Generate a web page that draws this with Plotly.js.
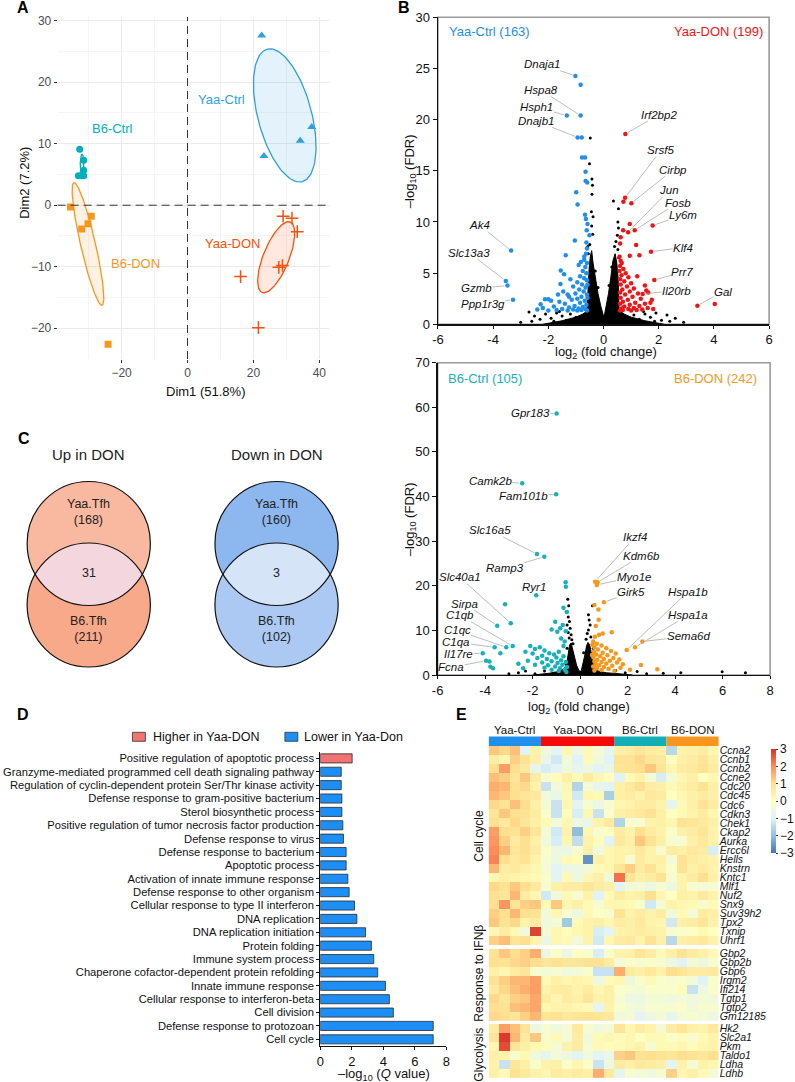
<!DOCTYPE html>
<html><head><meta charset="utf-8">
<script src="https://cdn.plot.ly/plotly-3.0.1.min.js"></script>
<style>html,body{margin:0;padding:0;background:#fff;}#chart{width:795px;height:1082px;}</style>
</head><body><div id="chart"></div>
<script>
// ================= DATA =================
// Panel A: PCA individuals
const b6CtrlDim1 = [-32.7,-31.5,-31.5,-33.1,-32.3,-31.5];
const b6CtrlDim2 = [9.1,7.3,5.7,4.8,4.8,4.8];
const b6DonDim1 = [-35.5,-29.2,-30.2,-32.1,-24.1];
const b6DonDim2 = [-0.3,-1.8,-3.0,-3.85,-22.6];
const yaaCtrlDim1 = [22.5,23.2,34.2,37.7];
const yaaCtrlDim2 = [27.6,8.0,10.5,12.7];
const yaaDonDim1 = [29.0,31.7,33.3,27.7,28.8,16.1,21.5];
const yaaDonDim2 = [-1.8,-2.1,-4.3,-10.1,-9.8,-11.6,-19.9];
// confidence ellipses: [centre x, centre y, axis1 dx, axis1 dy, axis2 dx, axis2 dy]
const ellB6Ctrl = [-32.0,6.6,0,1.71,0.54,0];
const ellB6Don = [-30.2,-6.3,-4.27,9.98,2.2,0.27];
const ellYaaCtrl = [29.5,14.6,-5.33,10.76,7.86,1.14];
const ellYaaDon = [26.9,-8.46,4.28,5.73,3.63,-0.79];

// Panel B top volcano (Yaa)
const topBlueX = [-1.02,-0.83,-0.83,-1.33,-0.94,-0.79,-0.78,-0.67,-0.65,-0.65,-0.59,-0.99,-0.94,-0.67,-0.64,-0.58,-0.61,-0.51,-1.04,-1.37,-3.35,-3.54,-3.48,-3.28,-1.55,-1.43,-1.56,-2.12,-2.28,-2.0,-1.25,-1.46,
 -0.62,-0.6,-0.64,-0.7,-0.6,-0.66,-0.75,-0.62,-0.85,-0.7,-0.6,-0.95,-0.78,-1.1,-0.65,-0.88,-0.72,-1.02,-0.6,-1.3,-0.8,-0.95,-1.15,-0.68,-1.6,-0.85,-1.4,-0.62,-1.05,-1.8,-0.75,-1.25,-0.9,-2.2,-0.66,-1.5,-1.1,-0.8,-1.7,-2.4,-0.95,-1.3,-0.6,-2.0,-0.7,-0.9,-1.2,-0.58,-0.58,-1.9,-1.65,-0.82];
const topBlueY = [24.27,23.4,20.4,20.4,18.26,18.26,16.3,16.3,14.9,14.0,13.86,12.9,11.7,10.7,10.3,9.8,9.2,8.7,8.2,6.75,7.2,4.24,3.78,2.4,5.25,4.9,3.95,2.45,1.96,2.45,2.7,3.2,
 8.0,7.4,6.9,6.3,6.0,5.6,5.2,5.0,4.7,4.5,4.3,4.1,3.9,3.7,3.6,3.4,3.2,3.0,2.9,2.9,2.7,2.5,2.4,2.3,2.2,2.1,2.0,1.9,1.8,1.75,1.7,1.65,1.55,1.6,1.5,1.5,1.45,1.4,1.4,1.45,1.35,1.35,1.35,1.35,6.6,5.8,4.4,3.9,2.6,2.3,2.9,6.1];
const topRedX = [0.79,0.78,0.72,1.01,0.95,0.71,0.89,1.13,1.78,1.72,1.18,1.3,0.95,0.62,0.6,1.84,1.42,3.4,4.03,
 0.58,0.62,0.66,0.6,0.72,0.58,0.8,0.65,0.9,0.6,0.75,1.0,0.62,0.85,1.1,0.68,0.95,0.6,1.25,0.78,1.05,0.62,1.35,0.88,0.7,1.15,1.5,0.6,0.95,1.3,0.75,1.6,1.1,0.65,0.9,1.4,0.7,1.2,1.8,0.6,1.0,1.55,1.62,1.7,1.75,1.22,1.5];
const topRedY = [18.6,12.36,11.97,11.84,9.8,9.2,9.0,9.2,9.65,7.1,7.76,6.75,6.7,8.5,7.9,4.33,2.97,1.82,1.99,
 6.6,6.2,6.0,5.7,5.4,5.2,5.0,4.8,4.6,4.4,4.2,4.0,3.9,3.7,3.5,3.4,3.2,3.1,3.0,2.9,2.7,2.6,2.5,2.4,2.2,2.1,2.0,2.0,1.9,1.8,1.75,1.6,1.6,1.55,1.5,1.45,1.4,1.4,1.5,1.35,1.35,3.3,3.1,2.1,2.4,4.7,3.8];
const topGreyX = [-0.48,-0.51,-0.42,-0.42,-0.4,-0.44,-0.38,-0.43,-0.39,0.36,0.54,0.54,0.5,0.45,0.4,0.52,
 -2.7,-2.5,-2.3,-2.1,-1.9,-1.7,-1.5,-1.35,-1.2,-1.0,-2.6,-1.8,2.6,2.3,2.1,1.9,1.7,1.5,1.3,1.1,2.4,1.85,-3.0,2.9,-1.6,1.45,
 -0.57,-0.5,-0.55,-0.3,-0.2,0.2,0.3,0.55,0.52,-0.62,0.6];
const topGreyY = [18.2,15.7,14.2,12.7,13.6,11.0,10.5,9.6,8.8,12.06,11.3,9.4,8.7,8.1,7.6,10.0,
 1.2,0.8,0.5,1.0,0.6,1.1,0.8,0.4,1.0,0.7,0.3,0.3,0.6,0.9,0.4,1.1,0.7,1.0,0.5,0.9,0.3,0.3,0.2,0.2,1.25,1.25,
 7.6,7.8,6.9,5.2,3.6,3.8,5.6,6.5,7.3,1.2,1.1];
// dense non-significant core (outline of the black point cloud)
const topCoreX = [-2.2,-1.5,-1.0,-0.75,-0.6,-0.58,-0.56,-0.52,-0.48,-0.43,-0.38,-0.3,-0.2,-0.1,-0.03,0.0,0.04,0.1,0.18,0.26,0.34,0.42,0.48,0.53,0.55,0.56,0.6,0.75,1.0,1.5,2.2];
const topCoreY = [0,0.35,0.7,1.0,1.3,2.5,4.0,5.5,6.6,7.2,6.0,4.5,3.0,1.8,1.0,0.8,1.0,1.8,3.0,4.5,6.2,6.9,6.0,4.5,3.0,1.5,1.3,1.0,0.7,0.35,0];
const topGenes = ['Dnaja1','Hspa8','Hsph1','Dnajb1','Irf2bp2','Srsf5','Cirbp','Jun','Fosb','Ly6m','Klf4','Prr7','Il20rb','Gal','Ak4','Slc13a3','Gzmb','Ppp1r3g'];
const topGeneX = [-1.02,-0.83,-1.33,-0.94,0.79,0.78,1.01,0.89,1.13,1.78,1.72,1.84,1.42,3.4,-3.35,-3.54,-3.48,-3.28];
const topGeneY = [24.27,20.4,20.4,18.26,18.6,12.36,11.84,9.0,9.2,9.65,7.1,4.33,2.97,1.82,7.2,4.24,3.78,2.4];

// Panel B bottom volcano (B6)
const botTealX = [-0.99,-2.44,-1.01,-1.82,-1.51,-1.85,-0.61,-0.6,-2.92,-3.16,-3.49,-0.7,-0.56,-1.05,-1.2,-0.96,-0.84,-0.73,-0.6,-3.11,-2.84,-3.36,-3.6,-4.1,-3.96,-3.82,-3.67,-3.78,
 -2.1,-1.9,-1.7,-1.5,-2.0,-1.3,-1.6,-1.1,-0.9,-1.8,-1.4,-1.0,-0.7,-2.2,-1.2,-0.8,-1.6,-0.95,-0.6,-1.9,-1.35,-0.75,-1.05,-0.55,-1.5,-0.85,-0.65,-1.2,-0.9,-0.58,-2.4,-2.6,-0.7,-0.65,-0.8,-2.3];
const botTealY = [58.6,43.0,40.5,27.1,26.5,17.9,20.8,19.8,11.6,15.85,11.06,15.1,14.1,11.95,10.2,9.7,10.5,11.2,9.8,6.2,6.5,4.87,6.2,4.87,3.2,3.0,1.5,1.87,
 6.5,5.8,6.2,5.5,4.8,4.9,4.3,4.6,5.2,3.8,3.6,3.9,4.2,3.2,3.1,3.3,2.8,2.7,2.9,2.3,2.2,2.3,1.9,1.8,1.6,1.5,1.2,1.2,0.9,0.7,1.5,2.5,6.5,7.5,8.2,5.2];
const botOrangeX = [0.63,0.74,0.7,1.0,0.6,0.77,0.66,0.78,1.33,0.95,0.8,0.62,1.96,2.31,2.62,2.56,3.25,2.1,
 0.55,0.7,0.9,0.6,1.1,0.75,1.3,0.58,0.95,1.5,0.68,1.15,0.85,0.56,1.4,1.0,0.72,1.25,0.6,0.9,1.55,1.1,0.65,0.8,1.35,0.55,1.0,1.7,0.7,1.2,0.9,0.6,1.45,1.8,1.65,0.5,0.52];
const botOrangeY = [20.9,20.8,20.2,16.3,15.7,14.7,11.0,12.4,9.6,9.3,9.0,8.6,5.6,6.2,7.5,2.24,1.27,1.2,
 7.5,7.0,6.6,6.2,6.0,5.7,5.4,5.2,5.0,4.8,4.6,4.4,4.2,3.9,3.8,3.6,3.4,3.2,3.0,2.9,2.8,2.6,2.5,2.2,2.1,1.9,1.8,1.6,1.5,1.4,1.1,1.0,0.9,2.4,3.5,4.5,6.8];
const botGreyX = [-0.52,-0.48,-0.56,-0.5,-0.45,-0.55,-0.42,-0.5,-0.38,-0.46,-0.35,0.52,0.35,0.35,0.42,0.3,0.45,0.25,0.38,4.24,5.98,6.96,-2.6,-2.3,-1.9,-1.5,1.5,1.9,2.4,2.8,3.5,-3.0,-1.1,
 -0.55,-0.3,0.55,0.15,-0.6,0.6];
const botGreyY = [17.0,15.5,14.2,13.0,12.0,11.2,10.5,9.5,9.0,8.3,7.9,15.5,13.5,10.1,11.2,9.3,8.5,8.0,12.3,0.5,0.75,0.5,0.5,0.9,0.3,0.9,1.0,0.5,0.8,0.3,0.4,0.3,0.4,
 6.0,7.0,6.0,5.0,2.5,2.2];
const botCoreX = [-2.0,-1.3,-0.9,-0.65,-0.55,-0.5,-0.44,-0.38,-0.32,-0.25,-0.15,-0.05,0.0,0.05,0.12,0.2,0.27,0.33,0.4,0.47,0.53,0.6,0.75,1.1,1.6,2.2];
const botCoreY = [0,0.4,0.8,1.5,3.0,5.0,6.8,7.2,6.0,4.0,2.2,1.0,0.8,1.0,2.5,4.5,6.5,7.3,6.8,5.0,3.0,1.5,0.9,0.5,0.3,0];
const botGenes = ['Gpr183','Camk2b','Fam101b','Slc16a5','Ramp3','Ryr1','Slc40a1','Sirpa','C1qb','C1qc','C1qa','Il17re','Fcna','Ikzf4','Kdm6b','Myo1e','Girk5','Hspa1b','Hspa1a','Sema6d'];
const botGeneX = [-0.99,-2.44,-1.01,-1.82,-1.51,-1.85,-2.92,-3.49,-2.84,-3.11,-3.6,-4.1,-3.96,0.63,0.74,0.7,1.0,1.96,2.31,2.62];
const botGeneY = [58.6,43.0,40.5,27.1,26.5,17.9,11.6,11.06,6.5,6.2,6.2,4.87,3.2,20.9,20.8,20.2,16.3,5.6,6.2,7.5];

// Panel C: Venn counts [Yaa only, shared, B6 only]
const vennUp = [168,31,211];
const vennDown = [160,3,102];

// Panel D: GO terms
const goTerms = ['Positive regulation of apoptotic process','Granzyme-mediated programmed cell death signaling pathway','Regulation of cyclin-dependent protein Ser/Thr kinase activity','Defense response to gram-positive bacterium','Sterol biosynthetic process','Positive regulation of tumor necrosis factor production','Defense response to virus','Defense response to bacterium','Apoptotic process','Activation of innate immune response','Defense response to other organism','Cellular response to type II interferon','DNA replication','DNA replication initiation','Protein folding','Immune system process','Chaperone cofactor-dependent protein refolding','Innate immune response','Cellular response to interferon-beta','Cell division','Defense response to protozoan','Cell cycle'];
const goQ = [2.02,1.33,1.33,1.37,1.37,1.43,1.47,1.64,1.64,1.75,1.83,2.17,2.32,2.87,3.24,3.39,3.64,4.13,4.38,4.63,7.16,7.16];
const goDir = ['Higher','Lower','Lower','Lower','Lower','Lower','Lower','Lower','Lower','Lower','Lower','Lower','Lower','Lower','Lower','Lower','Lower','Lower','Lower','Lower','Lower','Lower'];

// Panel E: heatmap
const hmGroups = ['Yaa-Ctrl','Yaa-DON','B6-Ctrl','B6-DON'];
const hmGroupN = [5,7,5,5];
const genesCellCycle = ['Ccna2','Ccnb1','Ccnb2','Ccne2','Cdc20','Cdc45','Cdc6','Cdkn3','Chek1','Ckap2','Aurka','Ercc6l','Hells','Knstrn','Kntc1','Mlf1','Nuf2','Snx9','Suv39h2','Tpx2','Txnip','Uhrf1'];
const genesIFNb = ['Gbp2','Gbp2b','Gbp6','Irgm2','Ifi214','Tgtp1','Tgtp2','Gm12185'];
const genesGlyco = ['Hk2','Slc2a1','Pkm','Taldo1','Ldha','Ldhb'];
const zCellCycle = [
[1.3,1.1,1.4,-1.0,0.4,-0.5,-0.9,0.3,-0.6,0.2,-0.4,-0.8,0.5,0.6,0.8,0.6,0.5,-1.5,0.4,0.5,0.6,0.3],
[0.6,0.3,1.2,0.9,0.5,-0.7,-1.2,-0.4,-1.0,0.2,-0.5,-1.0,0.9,0.9,1.1,0.8,0.7,0.0,0.5,0.6,0.8,0.5],
[1.0,1.8,1.0,0.7,-0.8,-1.1,-0.9,-0.5,-0.8,-0.6,-0.9,-0.7,0.8,0.9,1.0,1.3,0.8,0.3,0.6,0.7,0.9,0.6],
[1.4,1.2,0.8,1.3,0.6,-0.3,0.1,0.5,0.2,0.6,0.3,0.0,-1.0,0.2,0.4,-0.4,-1.1,-0.4,0.3,0.5,0.0,0.3],
[1.6,1.5,0.9,1.1,0.4,-1.3,-0.5,0.3,-1.6,-0.4,-0.8,-0.9,0.5,0.7,1.0,0.6,0.5,0.2,0.4,0.6,0.9,0.5],
[1.5,1.3,1.0,0.8,0.7,-0.5,-0.7,0.2,-1.2,0.3,0.2,-1.7,0.5,0.6,0.4,0.7,0.6,0.0,0.3,0.5,0.6,0.5],
[1.1,0.9,1.4,1.0,0.5,-0.4,-1.3,0.3,-0.9,-0.3,-0.6,-0.3,0.3,0.4,0.6,0.6,0.4,-0.8,0.2,0.5,0.9,0.6],
[0.8,1.3,1.0,0.9,0.6,-0.2,-1.3,0.1,-1.1,0.3,-1.3,-0.2,0.5,0.6,0.7,0.9,0.5,0.0,0.2,0.4,0.6,0.3],
[1.0,0.7,1.1,0.8,0.5,0.2,-0.4,0.3,-0.6,-0.7,0.4,0.7,-1.6,-0.3,-0.3,0.4,0.5,0.3,0.9,0.8,0.7,0.5],
[1.8,1.0,0.9,1.2,0.8,-0.4,-1.2,0.4,-2.0,0.3,-0.3,0.0,0.6,0.4,1.0,0.6,0.4,-0.2,0.5,0.6,0.8,0.4],
[1.9,1.2,0.6,1.0,0.5,-0.5,-1.1,0.3,-1.4,0.4,0.1,-1.0,0.7,0.5,1.3,0.9,0.5,-0.3,-0.3,0.5,0.7,0.4],
[2.0,1.5,0.8,1.0,0.6,-0.2,-0.6,-0.7,-0.3,0.5,-0.5,0.3,0.4,0.4,0.7,0.4,-0.3,0.6,0.5,0.7,0.6,-1.1],
[2.1,1.0,0.7,0.9,0.4,-0.3,-0.6,0.2,0.1,-2.6,0.5,0.3,0.4,-0.3,0.6,0.4,0.5,-0.4,0.9,0.6,0.5,0.4],
[1.5,0.6,0.7,0.5,0.3,-0.4,-0.9,-0.6,-0.6,-0.5,0.2,0.3,0.8,1.2,0.6,0.9,0.4,-0.2,0.9,0.5,0.6,0.4],
[0.3,0.5,0.4,0.3,0.2,-0.2,-0.9,0.2,-0.6,0.3,0.5,-0.5,2.3,0.8,0.5,0.6,0.9,-0.3,0.4,0.6,1.0,0.5],
[1.1,0.9,1.3,1.0,0.7,-0.3,0.5,0.6,0.6,0.8,0.6,0.5,-0.9,-0.4,-0.4,-0.6,-0.3,-0.6,0.4,-0.3,-0.4,-0.3],
[1.0,0.8,1.5,0.6,0.3,-1.2,-0.5,0.2,-0.3,0.4,-1.0,0.2,0.6,0.4,0.5,1.0,0.3,0.0,0.5,0.4,0.7,0.4],
[1.0,1.9,0.8,1.2,1.3,0.2,1.3,0.3,0.5,0.2,-0.3,0.3,0.3,0.2,-0.2,-1.2,-0.4,0.4,0.3,0.2,-0.3,0.2],
[1.2,1.0,1.5,1.0,0.9,-0.5,0.3,-0.3,-0.6,0.2,-0.1,-0.3,0.9,0.4,0.6,0.4,0.6,-0.5,0.2,-0.4,0.6,0.5],
[1.3,0.9,1.1,0.4,0.6,-0.5,-0.4,-1.8,0.2,0.4,0.5,0.3,0.6,0.5,0.7,0.4,0.3,-1.2,0.5,0.6,0.8,0.4],
[0.3,0.6,0.2,-0.5,2.8,-0.4,0.3,0.1,0.3,0.4,-1.1,-0.9,0.4,0.5,0.6,0.5,0.4,-0.3,-0.2,-0.1,0.2,0.0],
[1.2,1.4,0.8,1.0,0.4,-0.7,0.3,0.2,-0.5,0.4,-1.2,0.3,0.6,0.7,0.4,0.9,0.5,-1.5,0.5,0.6,0.7,0.4]];
const zIFNb = [
[0.9,1.3,1.0,1.2,1.6,-0.6,-0.1,-0.6,-0.1,-0.2,-1.1,-0.2,0.4,0.5,0.8,0.6,0.2,0.5,0.9,0.6,0.5,0.2],
[1.0,0.9,1.1,1.2,1.0,0.8,0.9,0.8,0.8,0.9,0.9,0.6,-0.4,-0.2,-0.3,-0.2,-0.3,-0.6,-1.0,-0.4,-0.6,-0.3],
[0.5,0.3,0.6,0.8,-0.3,-0.4,-0.3,-0.5,-0.4,-0.2,-1.3,-1.3,1.6,0.6,0.5,0.7,0.4,1.0,0.8,0.6,0.6,0.7],
[0.9,1.2,1.5,1.5,1.8,0.2,0.5,0.3,0.4,0.3,-0.6,0.2,0.3,-0.6,-0.2,0.2,-0.2,-0.3,-0.2,-0.4,-1.0,-0.2],
[0.7,1.1,1.4,1.6,1.8,0.4,0.6,0.6,0.4,0.6,0.3,0.5,-0.2,-0.3,-0.4,-0.2,-0.2,-0.2,0.1,-1.3,-0.6,-0.2],
[1.1,0.8,1.2,1.3,1.7,0.6,0.3,0.6,0.5,0.8,0.4,0.5,-0.3,-0.6,-0.6,-0.4,-0.4,-0.5,-0.4,-0.5,-0.4,-0.5],
[1.0,0.9,1.4,1.5,1.7,0.3,0.4,0.4,0.3,0.2,-0.8,0.4,-0.2,-0.4,-0.5,-0.3,-0.3,-0.3,-0.2,-0.5,-0.3,-0.3],
[1.1,1.0,0.8,1.2,1.5,0.8,0.9,0.7,0.8,0.9,0.8,0.7,-0.5,-0.4,-0.9,-0.6,-0.4,-0.8,-0.4,-0.3,-0.4,-0.6]];
const zGlyco = [
[0.6,1.8,1.4,0.9,-0.6,-0.3,-0.5,-0.4,0.7,-0.3,-0.5,-0.4,0.8,0.3,0.6,0.4,-0.4,0.6,0.8,0.5,0.4,0.7],
[0.8,2.9,1.5,0.6,1.3,-0.3,0.2,-0.4,0.6,-0.5,0.2,0.3,0.1,0.3,0.0,0.2,0.2,-0.2,0.1,-0.3,0.2,0.4],
[0.3,2.7,0.8,0.5,0.2,0.1,-0.4,0.4,0.6,-0.4,0.2,0.1,0.2,0.3,0.4,-0.3,0.2,0.2,0.3,0.1,0.3,0.4],
[0.5,0.4,-0.3,0.2,-0.5,-0.8,-0.4,-0.6,-0.9,-0.5,-0.9,-0.7,1.2,1.3,0.9,1.0,0.9,0.8,1.0,0.9,0.8,1.0],
[0.4,-1.3,0.8,0.5,-0.2,0.4,0.5,-0.2,0.3,-0.1,-1.3,-0.6,0.6,0.5,0.7,0.6,0.5,-0.9,0.4,-0.3,0.4,0.3],
[0.5,0.2,0.9,0.7,0.4,0.3,0.6,0.5,0.6,0.5,1.6,0.7,-0.8,-0.3,-0.4,-0.5,-0.3,1.2,0.3,0.5,0.2,-0.4]];

// ================= LAYOUT HELPERS =================
const W = 795, H = 1082;
const PX = x => x / W;
const PY = y => 1 - y / H;
const FONT = 'Liberation Sans, Arial, Helvetica, sans-serif';
const cB6Ctrl = '#00AFBB', cB6Don = '#F7961E', cYaaCtrl = '#2E9FDF', cYaaDon = '#FC4E07';

const traces = [];
const annotations = [];
const shapes = [];

// ----- Panel A -----
function ellipseTrace(p, color, fill) {
  const xs = [], ys = [];
  for (let i = 0; i <= 120; i++) {
    const t = 2 * Math.PI * i / 120;
    xs.push(p[0] + p[2] * Math.cos(t) + p[4] * Math.sin(t));
    ys.push(p[1] + p[3] * Math.cos(t) + p[5] * Math.sin(t));
  }
  return {type:'scatter', mode:'lines', x:xs, y:ys, xaxis:'x', yaxis:'y', fill:'toself',
    fillcolor:fill, line:{color:color, width:1.3}, hoverinfo:'skip'};
}
traces.push(ellipseTrace(ellYaaCtrl, cYaaCtrl, 'rgba(46,159,223,0.13)'));
traces.push(ellipseTrace(ellYaaDon, cYaaDon, 'rgba(252,78,7,0.13)'));
traces.push(ellipseTrace(ellB6Don, cB6Don, 'rgba(247,150,30,0.12)'));
traces.push(ellipseTrace(ellB6Ctrl, cB6Ctrl, 'rgba(0,175,187,0.13)'));
traces.push({type:'scatter', mode:'markers', x:b6CtrlDim1, y:b6CtrlDim2, xaxis:'x', yaxis:'y', marker:{symbol:'circle', size:7, color:cB6Ctrl}});
traces.push({type:'scatter', mode:'markers', x:b6DonDim1, y:b6DonDim2, xaxis:'x', yaxis:'y', marker:{symbol:'square', size:7, color:cB6Don}});
traces.push({type:'scatter', mode:'markers', x:yaaCtrlDim1, y:yaaCtrlDim2, xaxis:'x', yaxis:'y', marker:{symbol:'triangle-up', size:8, color:cYaaCtrl}});
traces.push({type:'scatter', mode:'markers', x:yaaDonDim1, y:yaaDonDim2, xaxis:'x', yaxis:'y', marker:{symbol:'cross-thin-open', size:9, color:cYaaDon, line:{color:cYaaDon, width:1.5}}});
[['Yaa-Ctrl',10.2,17.2,cYaaCtrl],['B6-Ctrl',-22.7,12.4,cB6Ctrl],['Yaa-DON',13.7,-6.3,cYaaDon],['B6-DON',-15.7,-9.5,cB6Don]].forEach(a => {
  annotations.push({xref:'x', yref:'y', x:a[1], y:a[2], text:a[0], showarrow:false, font:{size:13, color:a[3], family:FONT}});
});
shapes.push({type:'line', xref:'x', yref:'y domain', x0:0, x1:0, y0:0, y1:1, line:{color:'#333', width:1, dash:'8px,5px'}, layer:'above'});
shapes.push({type:'line', xref:'x domain', yref:'y', x0:0, x1:1, y0:0, y1:0, line:{color:'#333', width:1, dash:'8px,5px'}, layer:'above'});
annotations.push({xref:'paper', yref:'paper', x:PX(207), y:PY(392), text:'Dim1 (51.8%)', showarrow:false, font:{size:13, color:'#111', family:FONT}});
annotations.push({xref:'paper', yref:'paper', x:PX(24), y:PY(183), text:'Dim2 (7.2%)', textangle:-90, showarrow:false, font:{size:13, color:'#111', family:FONT}});

// ----- Panel B volcanoes -----
function volcano(ax, ay, coreX, coreY, greyX, greyY, lx, ly, lc, rx, ry, rc) {
  traces.push({type:'scatter', mode:'lines', x:coreX, y:coreY, xaxis:ax, yaxis:ay, fill:'toself', fillcolor:'#000', line:{color:'#000', width:1}, hoverinfo:'skip'});
  traces.push({type:'scatter', mode:'markers', x:greyX, y:greyY, xaxis:ax, yaxis:ay, marker:{size:3, color:'#000'}});
  traces.push({type:'scatter', mode:'markers', x:lx, y:ly, xaxis:ax, yaxis:ay, marker:{size:4.5, color:lc}});
  traces.push({type:'scatter', mode:'markers', x:rx, y:ry, xaxis:ax, yaxis:ay, marker:{size:4.5, color:rc}});
}
volcano('x2','y2', topCoreX, topCoreY, topGreyX, topGreyY, topBlueX, topBlueY, '#1E8FEA', topRedX, topRedY, '#F21414');
volcano('x3','y3', botCoreX, botCoreY, botGreyX, botGreyY, botTealX, botTealY, '#17B1BA', botOrangeX, botOrangeY, '#F7981D');

// text positions of gene labels (layout)
const topLabelPos = [[-2.24,25.4],[-2.28,22.9],[-2.42,21.2],[-2.46,19.9],[2.02,20.5],[2.07,17.0],[2.53,15.1],[2.38,13.1],[2.71,11.9],[2.89,10.7],[2.89,7.5],[2.86,5.1],[2.64,3.3],[4.33,3.2],[-4.49,9.7],[-4.88,7.0],[-4.61,3.5],[-4.38,2.0]];
const botLabelPos = [[-2.1,58.7],[-3.78,43.4],[-2.38,40.2],[-3.78,32.4],[-3.15,23.9],[-1.96,19.8],[-5.07,21.9],[-4.87,16.0],[-5.07,13.4],[-5.18,10.0],[-5.21,7.35],[-5.11,4.7],[-5.43,1.7],[2.31,30.9],[2.59,26.7],[2.27,22.0],[2.14,18.5],[4.55,18.7],[4.55,13.45],[4.55,8.7]];
function geneLabels(genes, gx, gy, pos, ax, ay, noArrow) {
  genes.forEach((g, i) => {
    const a = {xref:ax, yref:ay, text:'<i>' + g + '</i>', font:{size:11.5, color:'#111', family:FONT}};
    if (noArrow.includes(g)) {
      Object.assign(a, {x:pos[i][0], y:pos[i][1], showarrow:false});
    } else {
      Object.assign(a, {x:gx[i], y:gy[i], ax:pos[i][0], ay:pos[i][1], axref:ax, ayref:ay, showarrow:true,
        arrowhead:0, arrowwidth:0.7, arrowcolor:'#A0A0A0', standoff:3, borderpad:0});
    }
    annotations.push(a);
  });
}
geneLabels(topGenes, topGeneX, topGeneY, topLabelPos, 'x2', 'y2', []);
geneLabels(botGenes, botGeneX, botGeneY, botLabelPos, 'x3', 'y3', ['Ryr1']);

['x2','x3'].forEach((xa, k) => {
  const ya = k === 0 ? 'y2' : 'y3';
  shapes.push({type:'rect', xref:xa + ' domain', yref:ya + ' domain', x0:0, x1:1, y0:0, y1:1, line:{color:'#9A9A9A', width:1.6}, layer:'below'});
});
annotations.push({xref:'paper', yref:'paper', x:PX(450), y:PY(31.7), xanchor:'left', text:'Yaa-Ctrl (163)', showarrow:false, font:{size:13, color:'#1E8FEA', family:FONT}});
annotations.push({xref:'paper', yref:'paper', x:PX(770), y:PY(31.7), xanchor:'right', text:'Yaa-DON (199)', showarrow:false, font:{size:13, color:'#F21414', family:FONT}});
annotations.push({xref:'paper', yref:'paper', x:PX(449), y:PY(378.3), xanchor:'left', text:'B6-Ctrl (105)', showarrow:false, font:{size:13, color:'#17B1BA', family:FONT}});
annotations.push({xref:'paper', yref:'paper', x:PX(764), y:PY(378.3), xanchor:'right', text:'B6-DON (242)', showarrow:false, font:{size:13, color:'#F7981D', family:FONT}});
annotations.push({xref:'paper', yref:'paper', x:PX(610), y:PY(352), text:'log<sub>2</sub> (fold change)', showarrow:false, font:{size:13, color:'#111', family:FONT}});
annotations.push({xref:'paper', yref:'paper', x:PX(583), y:PY(707), text:'log<sub>2</sub> (fold change)', showarrow:false, font:{size:13, color:'#111', family:FONT}});
annotations.push({xref:'paper', yref:'paper', x:PX(413), y:PY(170.8), text:'\u2013log<sub>10</sub> (FDR)', textangle:-90, showarrow:false, font:{size:13, color:'#111', family:FONT}});
annotations.push({xref:'paper', yref:'paper', x:PX(413), y:PY(518.8), text:'\u2013log<sub>10</sub> (FDR)', textangle:-90, showarrow:false, font:{size:13, color:'#111', family:FONT}});

// ----- Panel C Venn -----
const vennR = 62;
const vennCentres = [[89.3,543.5,89.3,605],[278.3,543.5,278.3,605]];
const vennFills = [['#F9B8A0','#F8A98A','#F4D7DE'],['#8DB7EF','#ABC9F3','#D6E4F8']];
const vennTitles = ['Up in DON','Down in DON'];
const vennCounts = [vennUp, vennDown];
vennCentres.forEach((c, k) => {
  shapes.push({type:'circle', xref:'x4', yref:'y4', x0:c[0]-vennR, x1:c[0]+vennR, y0:c[1]-vennR, y1:c[1]+vennR, fillcolor:vennFills[k][0], line:{width:0}, layer:'below'});
  shapes.push({type:'circle', xref:'x4', yref:'y4', x0:c[2]-vennR, x1:c[2]+vennR, y0:c[3]-vennR, y1:c[3]+vennR, fillcolor:vennFills[k][1], line:{width:0}, layer:'below'});
  const d = c[3] - c[1];
  const t0 = Math.asin(d / 2 / vennR);
  const lx = [], ly = [];
  for (let i = 0; i <= 60; i++) { const t = t0 + (Math.PI - 2 * t0) * i / 60; lx.push(c[0] + vennR * Math.cos(t)); ly.push(c[1] + vennR * Math.sin(t)); }
  for (let i = 60; i >= 0; i--) { const t = t0 + (Math.PI - 2 * t0) * i / 60; lx.push(c[2] + vennR * Math.cos(t)); ly.push(c[3] - vennR * Math.sin(t)); }
  traces.push({type:'scatter', mode:'lines', x:lx, y:ly, xaxis:'x4', yaxis:'y4', fill:'toself', fillcolor:vennFills[k][2], line:{width:0, color:vennFills[k][2]}, hoverinfo:'skip'});
  shapes.push({type:'circle', xref:'x4', yref:'y4', x0:c[0]-vennR, x1:c[0]+vennR, y0:c[1]-vennR, y1:c[1]+vennR, line:{color:'#111', width:1.2}, layer:'above'});
  shapes.push({type:'circle', xref:'x4', yref:'y4', x0:c[2]-vennR, x1:c[2]+vennR, y0:c[3]-vennR, y1:c[3]+vennR, line:{color:'#111', width:1.2}, layer:'above'});
  const f = {size:12.5, color:'#222', family:FONT};
  annotations.push({xref:'x4', yref:'y4', x:c[0], y:454.3, text:vennTitles[k], showarrow:false, font:{size:15, color:'#222', family:FONT}});
  annotations.push({xref:'x4', yref:'y4', x:c[0], y:512, text:'Yaa.Tfh<br>(' + vennCounts[k][0] + ')', showarrow:false, font:f});
  annotations.push({xref:'x4', yref:'y4', x:c[0], y:572.7, text:String(vennCounts[k][1]), showarrow:false, font:f});
  annotations.push({xref:'x4', yref:'y4', x:c[0], y:629, text:'B6.Tfh<br>(' + vennCounts[k][2] + ')', showarrow:false, font:f});
});

// ----- Panel D bars -----
const goColour = goDir.map(d => d === 'Higher' ? '#F27373' : '#1C8EF5');
traces.push({type:'bar', orientation:'h', x:goQ, y:goTerms, xaxis:'x5', yaxis:'y5', width:0.68,
  marker:{color:goColour, line:{color:'#2a2a2a', width:0.8}}});
shapes.push({type:'rect', xref:'paper', yref:'paper', x0:PX(133.3), x1:PX(146.3), y0:PY(741.3), y1:PY(732.3), fillcolor:'#F27373', line:{color:'#333', width:0.8}});
shapes.push({type:'rect', xref:'paper', yref:'paper', x0:PX(286.7), x1:PX(299.7), y0:PY(741.3), y1:PY(732.3), fillcolor:'#1C8EF5', line:{color:'#333', width:0.8}});
annotations.push({xref:'paper', yref:'paper', x:PX(151.5), y:PY(737), xanchor:'left', text:'Higher in Yaa-DON', showarrow:false, font:{size:12.5, color:'#111', family:FONT}});
annotations.push({xref:'paper', yref:'paper', x:PX(304), y:PY(737), xanchor:'left', text:'Lower in Yaa-Don', showarrow:false, font:{size:12.5, color:'#111', family:FONT}});
annotations.push({xref:'paper', yref:'paper', x:PX(386), y:PY(1074), text:'\u2013log<sub>10</sub> (<i>Q</i> value)', showarrow:false, font:{size:13, color:'#111', family:FONT}});

// ----- Panel E heatmap -----
const colsX = []; for (let i = 0; i < hmGroupN.reduce((a, b) => a + b, 0); i++) colsX.push(i);
const hmScale = [[0,'#4575B4'],[1/6,'#91BFDB'],[2/6,'#E0F3F8'],[3/6,'#FFFFBF'],[4/6,'#FEE090'],[5/6,'#FC8D59'],[1,'#D73027']];
[[zCellCycle, genesCellCycle, 'y6'],[zIFNb, genesIFNb, 'y7'],[zGlyco, genesGlyco, 'y8']].forEach(b => {
  traces.push({type:'heatmap', z:b[0], x:colsX, y:b[1], xaxis:'x6', yaxis:b[2], coloraxis:'coloraxis', hoverinfo:'skip'});
});
const hmGroupColours = ['#1E8FEA','#F50A0A','#14AEB6','#F7961E'];
let start = 0;
hmGroups.forEach((g, k) => {
  shapes.push({type:'rect', xref:'x6', yref:'paper', x0:start - 0.5, x1:start + hmGroupN[k] - 0.5, y0:PY(746), y1:PY(736.5), fillcolor:hmGroupColours[k], line:{width:0}});
  annotations.push({xref:'x6', yref:'paper', x:start + (hmGroupN[k] - 1) / 2, y:PY(730), text:g, showarrow:false, font:{size:11.5, color:'#111', family:FONT}});
  start += hmGroupN[k];
});
annotations.push({xref:'paper', yref:'paper', x:PX(481.7), y:PY(836), text:'Cell cycle', textangle:-90, showarrow:false, font:{size:12, color:'#111', family:FONT}});
annotations.push({xref:'paper', yref:'paper', x:PX(481.7), y:PY(973), text:'Response to IFN\u03b2', textangle:-90, showarrow:false, font:{size:12, color:'#111', family:FONT}});
annotations.push({xref:'paper', yref:'paper', x:PX(481.7), y:PY(1055), text:'Glycolysis', textangle:-90, showarrow:false, font:{size:12, color:'#111', family:FONT}});

// panel letters
[['A',23.5,8],['B',406.7,8],['C',24,438],['D',23.5,714],['E',464.5,714]].forEach(l => {
  annotations.push({xref:'paper', yref:'paper', x:PX(l[1]), y:PY(l[2]), text:'<b>' + l[0] + '</b>', showarrow:false, font:{size:16, color:'#000', family:FONT}});
});
// explicit anchors (paper annotations otherwise auto-anchor by position)
annotations.forEach(a => {
  if (!a.showarrow) { if (!a.xanchor) a.xanchor = 'center'; if (!a.yanchor) a.yanchor = 'middle'; }
});

// ================= AXES =================
const tickFontA = {size:12, color:'#4D4D4D', family:FONT};
const tickFontB = {size:13, color:'#111', family:FONT};
const hmYaxis = (lo, hi, genes) => ({domain:[PY(hi), PY(lo)], anchor:'x6', type:'category', autorange:'reversed', side:'right',
  tickmode:'array', tickvals:genes, ticktext:genes,
  showgrid:false, zeroline:false, ticks:'', showline:false, tickfont:{size:10.5, style:'italic', color:'#111', family:FONT}});
const layout = {
  width:W, height:H, margin:{l:0, r:0, t:0, b:0}, paper_bgcolor:'#fff', plot_bgcolor:'rgba(0,0,0,0)',
  showlegend:false, font:{family:FONT, color:'#111'},
  xaxis:{domain:[PX(58), PX(331)], anchor:'y', range:[-39.4, 42.9], tick0:0, dtick:20, showgrid:true, gridcolor:'#EBEBEB', gridwidth:1,
    minor:{dtick:10, showgrid:true, gridcolor:'#F2F2F2', gridwidth:0.8}, zeroline:false, ticks:'outside', ticklen:3, tickcolor:'#333', tickfont:tickFontA, showline:false},
  yaxis:{domain:[PY(359), PY(17)], anchor:'x', range:[-25, 30.6], tick0:0, dtick:10, showgrid:true, gridcolor:'#EBEBEB', gridwidth:1,
    minor:{dtick:5, showgrid:true, gridcolor:'#F2F2F2', gridwidth:0.8}, zeroline:false, ticks:'outside', ticklen:3, tickcolor:'#333', tickfont:tickFontA, showline:false},
  xaxis2:{domain:[PX(440.7), PX(774)], anchor:'y2', range:[-6, 6], tickvals:[-6,-4,-2,0,2,4,6], ticktext:['-6','-4','-2','0','2','4','6'],
    showgrid:false, zeroline:false, ticks:'outside', ticklen:3, tickcolor:'#111', showline:true, linecolor:'#111', linewidth:1.3, tickfont:tickFontB},
  yaxis2:{domain:[PY(324.3), PY(17.3)], anchor:'x2', range:[0, 30], dtick:5, showgrid:false, zeroline:false, ticks:'outside', ticklen:4, tickcolor:'#111',
    showline:true, linecolor:'#111', linewidth:1.3, tickfont:tickFontB},
  xaxis3:{domain:[PX(440.4), PX(775)], anchor:'y3', range:[-6, 8], tickvals:[-6,-4,-2,0,2,4,6,8], ticktext:['-6','-4','-2','0','2','4','6','8'],
    showgrid:false, zeroline:false, ticks:'outside', ticklen:3, tickcolor:'#111', showline:true, linecolor:'#111', linewidth:1.3, tickfont:tickFontB},
  yaxis3:{domain:[PY(675), PY(362.7)], anchor:'x3', range:[0, 70], dtick:10, showgrid:false, zeroline:false, ticks:'outside', ticklen:4, tickcolor:'#111',
    showline:true, linecolor:'#111', linewidth:1.3, tickfont:tickFontB},
  xaxis4:{domain:[0, PX(390)], anchor:'y4', range:[0, 390], visible:false},
  yaxis4:{domain:[PY(690), PY(440)], anchor:'x4', range:[690, 440], visible:false},
  xaxis5:{domain:[PX(322.3), PX(449.3)], anchor:'y5', range:[0, 8], dtick:2, showgrid:false, zeroline:false, ticks:'outside', ticklen:3, tickcolor:'#111',
    showline:true, linecolor:'#111', linewidth:1, tickfont:{size:13, color:'#111', family:FONT}},
  yaxis5:{domain:[PY(1046), PY(751.7)], anchor:'x5', type:'category', autorange:'reversed', tickmode:'array', tickvals:goTerms, ticktext:goTerms,
    showgrid:false, zeroline:false, ticks:'outside', ticklen:3,
    tickcolor:'#111', showline:true, linecolor:'#111', linewidth:1, tickfont:{size:11.2, color:'#111', family:FONT}},
  xaxis6:{domain:[PX(491.7), PX(723.3)], anchor:'y6', range:[-0.5, 21.5], visible:false},
  yaxis6:hmYaxis(746, 945.1, genesCellCycle),
  yaxis7:hmYaxis(948.8, 1021.2, genesIFNb),
  yaxis8:hmYaxis(1023.8, 1078.1, genesGlyco),
  coloraxis:{cmin:-3, cmax:3, colorscale:hmScale,
    colorbar:{x:PX(776), xanchor:'left', y:PY(749), yanchor:'top', len:104 / H, lenmode:'fraction', thickness:5, outlinewidth:0,
      tickvals:[-3,-2,-1,0,1,2,3], ticks:'outside', ticklen:2, tickcolor:'#333', tickfont:{size:12, color:'#111', family:FONT}, xpad:0, ypad:0}},
  annotations:annotations, shapes:shapes
};
Plotly.newPlot('chart', traces, layout, {displayModeBar:false, staticPlot:true});
</script></body></html>
